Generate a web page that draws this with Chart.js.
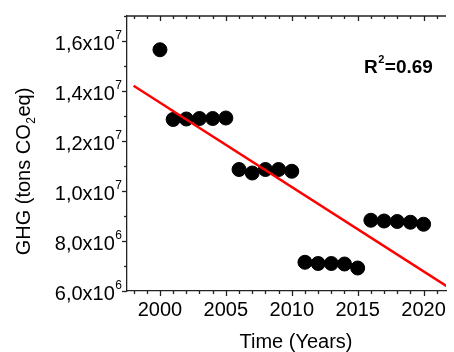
<!DOCTYPE html>
<html>
<head>
<meta charset="utf-8">
<script src="https://cdn.jsdelivr.net/npm/chart.js@4/dist/chart.umd.min.js"></script>
<style>
html,body{margin:0;padding:0;background:#fff;}
canvas{display:block;}
</style>
</head>
<body>
<canvas id="c" width="454" height="352"></canvas>
<script>
// ---- data ----
const years = [2000,2001,2002,2003,2004,2005,2006,2007,2008,2009,2010,2011,2012,2013,2014,2015,2016,2017,2018,2019,2020];
const ghg = [15.65e6,12.86e6,12.88e6,12.90e6,12.90e6,12.92e6,10.86e6,10.72e6,10.86e6,10.86e6,10.79e6,7.15e6,7.10e6,7.10e6,7.08e6,6.92e6,8.83e6,8.80e6,8.78e6,8.75e6,8.67e6];
const fitX = [1998, 2022];
const fitY = [14.21e6, 6.11e6];
const xTickValues = [2000,2005,2010,2015,2020];
const xTickLabels = ['2000','2005','2010','2015','2020'];
const yTickValues = [6e6,8e6,10e6,12e6,14e6,16e6];
const yTickMantissa = ['6,0','8,0','1,0','1,2','1,4','1,6'];
const yTickExponent = ['6','6','7','7','7','7'];
const xTitle = 'Time (Years)';
const yTitleParts = ['GHG (tons CO', '2', 'eq)'];
const r2Parts = ['R', '2', '=0.69'];

const FONT = '"Liberation Sans", Arial, sans-serif';

const bgPlugin = {
  id: 'bg',
  beforeDraw(chart){
    const ctx = chart.ctx;
    ctx.save(); ctx.fillStyle = '#fff'; ctx.fillRect(0,0,chart.width,chart.height); ctx.restore();
  }
};

const axesPlugin = {
  id: 'axesDeco',
  afterDraw(chart){
    const ctx = chart.ctx, xs = chart.scales.x, ys = chart.scales.y, a = chart.chartArea;
    ctx.save();
    ctx.strokeStyle = '#222';
    ctx.lineWidth = 1.3;
    const ln = (x1,y1,x2,y2)=>{ctx.beginPath();ctx.moveTo(x1,y1);ctx.lineTo(x2,y2);ctx.stroke();};
    // top frame line
    ln(a.left-1, a.top, a.right, a.top);
    // x ticks (every year, major each 5)
    for (let yr = Math.ceil(xs.min); yr <= Math.floor(xs.max); yr++) {
      const px = Math.round(xs.getPixelForValue(yr)) + 0.5;
      const L = (yr % 5 === 0) ? 5 : 3;
      ln(px, a.bottom, px, a.bottom + L);
      ln(px, a.top, px, a.top + L);
    }
    // y ticks (every 1e6, major each 2e6)
    for (let v = 6; v <= 17; v++) {
      const py = Math.round(ys.getPixelForValue(v*1e6)) + 0.5;
      const L = (v % 2 === 0) ? 5 : 3;
      ln(a.left - L, py, a.left, py);
    }
    ctx.fillStyle = '#000';
    // x tick labels
    ctx.font = '20px ' + FONT;
    ctx.textAlign = 'center';
    ctx.textBaseline = 'alphabetic';
    xTickValues.forEach((v,i)=>{
      ctx.fillText(xTickLabels[i], xs.getPixelForValue(v), a.bottom + 24.5);
    });
    // y tick labels with superscript exponent
    yTickValues.forEach((v,i)=>{
      const py = ys.getPixelForValue(v);
      const rightEdge = a.left - 5;
      ctx.font = '12px ' + FONT;
      ctx.textAlign = 'right';
      const ew = ctx.measureText(yTickExponent[i]).width;
      ctx.fillText(yTickExponent[i], rightEdge, py - 2.5);
      ctx.font = '20px ' + FONT;
      ctx.fillText(yTickMantissa[i] + 'x10', rightEdge - ew - 0.5, py + 8.5);
    });
    // x title
    ctx.font = '20px ' + FONT;
    ctx.textAlign = 'center';
    ctx.fillText(xTitle, 296, 348);
    // y title (rotated, with subscript)
    ctx.save();
    ctx.translate(29.5, 171.5);
    ctx.rotate(-Math.PI/2);
    ctx.textAlign = 'left';
    ctx.font = '20px ' + FONT;
    const w0 = ctx.measureText(yTitleParts[0]).width;
    const w2 = ctx.measureText(yTitleParts[2]).width;
    ctx.font = '12px ' + FONT;
    const w1 = ctx.measureText(yTitleParts[1]).width;
    const total = w0 + w1 + 1 + w2;
    let x0 = -total/2;
    ctx.font = '20px ' + FONT;
    ctx.fillText(yTitleParts[0], x0, 0);
    ctx.font = '12px ' + FONT;
    ctx.fillText(yTitleParts[1], x0 + w0 + 0.5, 5);
    ctx.font = '20px ' + FONT;
    ctx.fillText(yTitleParts[2], x0 + w0 + w1 + 1, 0);
    ctx.restore();
    // R^2 annotation
    ctx.textAlign = 'left';
    ctx.font = 'bold 19px ' + FONT;
    ctx.fillText(r2Parts[0], 364, 72.7);
    const rw = ctx.measureText(r2Parts[0]).width;
    ctx.font = 'bold 11px ' + FONT;
    ctx.fillText(r2Parts[1], 364 + rw + 0.5, 63);
    const sw = ctx.measureText(r2Parts[1]).width;
    ctx.font = 'bold 19px ' + FONT;
    ctx.fillText(r2Parts[2], 364 + rw + sw + 1, 72.7);
    ctx.restore();
  }
};

new Chart(document.getElementById('c'), {
  type: 'scatter',
  data: {
    datasets: [
      {
        type: 'line',
        data: fitX.map((x,i)=>({x:x, y:fitY[i]})),
        borderColor: '#ff0000',
        borderWidth: 2.5,
        pointRadius: 0,
        fill: false,
        order: 0
      },
      {
        type: 'scatter',
        data: years.map((x,i)=>({x:x, y:ghg[i]})),
        backgroundColor: '#000',
        borderColor: '#000',
        pointRadius: 7,
        pointHoverRadius: 7,
        order: 1
      }
    ]
  },
  options: {
    responsive: false,
    animation: false,
    devicePixelRatio: 1,
    layout: { padding: { top: 16, right: 0, left: 0, bottom: 0 } },
    plugins: { legend: { display: false }, tooltip: { enabled: false } },
    scales: {
      x: {
        type: 'linear',
        min: 1997.5,
        max: 2021.7,
        grid: { display: false },
        border: { display: true, color: '#222', width: 1.3 },
        ticks: { display: false },
        afterFit(s){ s.height = 61; }
      },
      y: {
        type: 'linear',
        min: 6e6,
        max: 17e6,
        grid: { display: false },
        border: { display: true, color: '#222', width: 1.3 },
        ticks: { display: false },
        afterFit(s){ s.width = 127; }
      }
    }
  },
  plugins: [bgPlugin, axesPlugin]
});
</script>
</body>
</html>
